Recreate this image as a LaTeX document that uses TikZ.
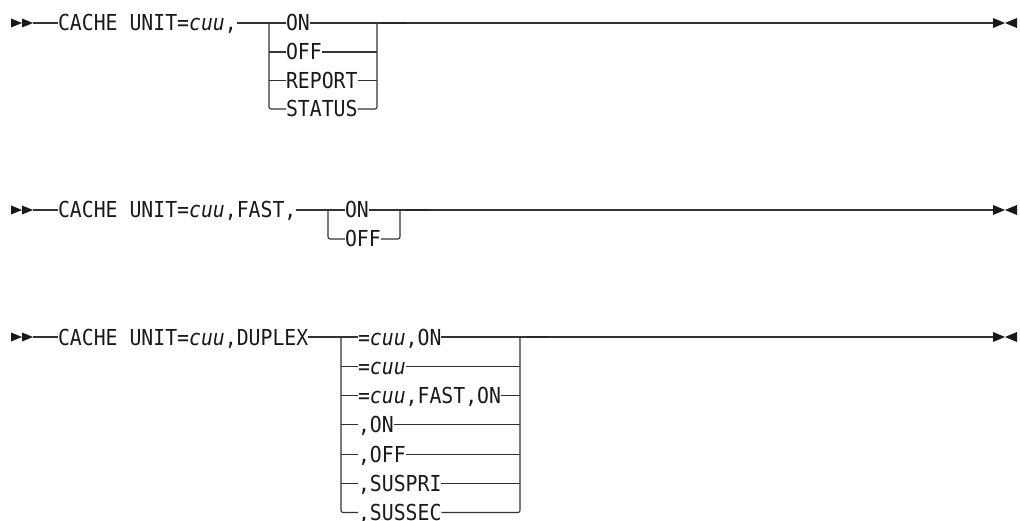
\documentclass[tikz,border=0pt]{standalone}
\usepackage{fontspec}
\newfontfamily\rrfont[FakeStretch=0.9]{DejaVu Sans Mono}
\begin{document}
\begin{tikzpicture}[x=1pt,y=-1pt,
  track/.style={line width=1.1pt,draw=black!80},
  elbow/.style={track,rounded corners=2pt},
  heavy/.style={line width=1.9pt,draw=black!85},
  tip/.style={fill=black!90},
  lbl/.style={font=\rrfont\fontsize{22}{24}\selectfont,text=black!90,
    inner sep=0pt,outer sep=0pt,text height=16pt,text depth=0pt,anchor=west}]
\useasboundingbox (0,0) rectangle (1020,521);

% ---------- CACHE UNIT=cuu,{ON|OFF|REPORT|STATUS} ----------
\coordinate (s1) at (33,23);
\fill[tip] (11,18.5) -- (22,23) -- (11,27.5) -- cycle;
\fill[tip] (22,18.5) -- (33,23) -- (22,27.5) -- cycle;
\node[lbl] (c1) at (58,23) {CACHE UNIT=\textit{cuu},};
\coordinate (L1) at (269,23);
\coordinate (R1) at (377,23);
\coordinate (e1) at (993,23);
\node[lbl] (on1)  at (286,23)   {ON};
\node[lbl] (off1) at (286,52)   {OFF};
\node[lbl] (rep1) at (286,80.5) {REPORT};
\node[lbl] (sta1) at (286,109)  {STATUS};
\draw[track] (s1) -- (c1.west);
\draw[track] (c1.east) -- (L1) -- (on1.west);
\draw[track] (on1.east) -- (R1) -- (e1);
\draw[elbow] (L1) |- (sta1.west);
\draw[elbow] (sta1.east) -| (R1);
\draw[track] (L1 |- off1.west) -- (off1.west);
\draw[track] (off1.east) -- (R1 |- off1.east);
\draw[track] (L1 |- rep1.west) -- (rep1.west);
\draw[track] (rep1.east) -- (R1 |- rep1.east);
\draw[heavy] ([xshift=4pt]R1) -- ([xshift=30pt]R1);
\fill[tip] (e1) ++(0,-5) -- ++(12,5) -- ++(-12,5) -- cycle;
\fill[tip] (e1) ++(24,-5) -- ++(-12,5) -- ++(12,5) -- cycle;

% ---------- CACHE UNIT=cuu,FAST,{ON|OFF} ----------
\coordinate (s2) at (33,210);
\fill[tip] (11,205.5) -- (22,210) -- (11,214.5) -- cycle;
\fill[tip] (22,205.5) -- (33,210) -- (22,214.5) -- cycle;
\node[lbl] (c2) at (58,210) {CACHE UNIT=\textit{cuu},FAST,};
\coordinate (L2) at (328,210);
\coordinate (R2) at (400,210);
\coordinate (e2) at (993,210);
\node[lbl] (on2)  at (345,210) {ON};
\node[lbl] (off2) at (345,239) {OFF};
\draw[track] (s2) -- (c2.west);
\draw[track] (c2.east) -- (L2) -- (on2.west);
\draw[track] (on2.east) -- (R2) -- (e2);
\draw[elbow] (L2) |- (off2.west);
\draw[elbow] (off2.east) -| (R2);
\draw[heavy] ([xshift=5pt]R2) -- ([xshift=30pt]R2);
\fill[tip] (e2) ++(0,-5) -- ++(12,5) -- ++(-12,5) -- cycle;
\fill[tip] (e2) ++(24,-5) -- ++(-12,5) -- ++(12,5) -- cycle;

% ---------- CACHE UNIT=cuu,DUPLEX{...} ----------
\coordinate (s3) at (33,337);
\fill[tip] (11,332.5) -- (22,337) -- (11,341.5) -- cycle;
\fill[tip] (22,332.5) -- (33,337) -- (22,341.5) -- cycle;
\node[lbl] (c3) at (58,337) {CACHE UNIT=\textit{cuu},DUPLEX};
\coordinate (L3) at (341,337);
\coordinate (R3) at (520,337);
\coordinate (e3) at (993,337);
\node[lbl] (d1) at (358,337)   {=\textit{cuu},ON};
\node[lbl] (d2) at (358,366.3) {=\textit{cuu}};
\node[lbl] (d3) at (358,395.6) {=\textit{cuu},FAST,ON};
\node[lbl] (d4) at (358,424.9) {,ON};
\node[lbl] (d5) at (358,454.2) {,OFF};
\node[lbl] (d6) at (358,483.5) {,SUSPRI};
\node[lbl] (d7) at (358,512.5) {,SUSSEC};
\draw[track] (s3) -- (c3.west);
\draw[track] (c3.east) -- (L3) -- (d1.west);
\draw[track] (d1.east) -- (R3) -- (e3);
\draw[elbow] (L3) |- (d7.west);
\draw[elbow] (d7.east) -| (R3);
\foreach \n in {d2,d3,d4,d5,d6}{
  \draw[track] (L3 |- \n.west) -- (\n.west);
  \draw[track] (\n.east) -- (R3 |- \n.east);
}
\draw[heavy] ([xshift=7pt]R3) -- ([xshift=28pt]R3);
\fill[tip] (e3) ++(0,-5) -- ++(12,5) -- ++(-12,5) -- cycle;
\fill[tip] (e3) ++(24,-5) -- ++(-12,5) -- ++(12,5) -- cycle;
\end{tikzpicture}
\end{document}
